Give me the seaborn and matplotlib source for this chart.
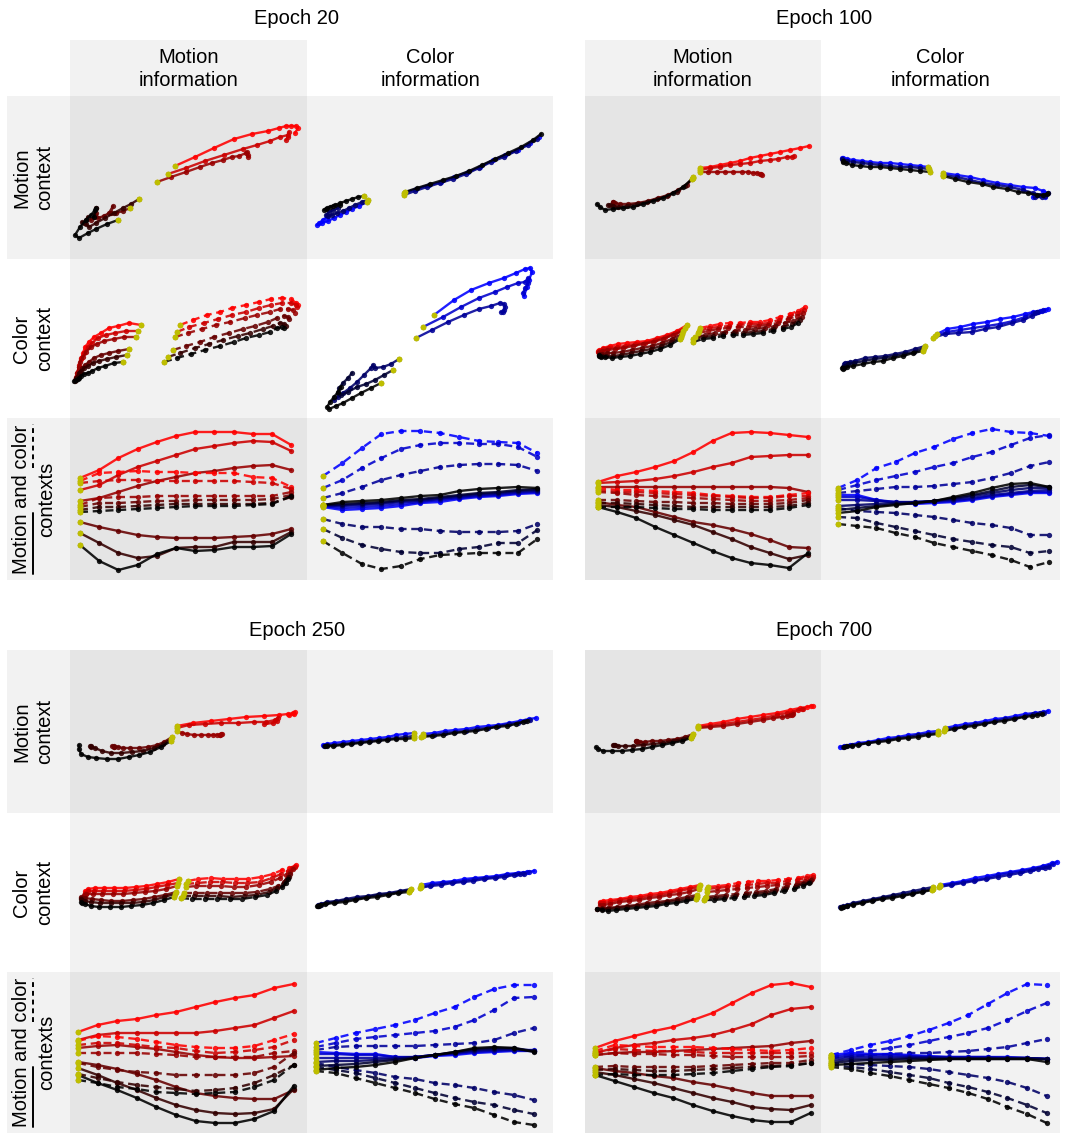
import matplotlib
matplotlib.use("Agg")
import matplotlib.pyplot as plt
from matplotlib.patches import Rectangle
from matplotlib.lines import Line2D
import pandas as pd
import seaborn as sns

# ---------------------------------------------------------------------------
# Data: neural-state trajectories projected on the motion / color axes.
# Rows 1-2: 2-D projections (x, y in projection units, y grows downward).
# Row 3: projection value per time step (12 steps).
# ---------------------------------------------------------------------------
STEPS = list(range(12))

# ---------------- Epoch 20 ----------------
E20_MOTCTX_MOTINFO_X = [
    [105, 125, 144, 164, 182, 198, 209, 216, 221, 226, 228, 225],
    [98, 116, 135, 154, 173, 187, 200, 210, 218, 219, 218, 216],
    [87, 101, 116, 130, 142, 153, 162, 169, 176, 178, 177, 178],
    [60, 53, 46, 41, 43, 39, 34, 28, 26, 26, 24, 21],
    [69, 61, 53, 44, 35, 26, 19, 16, 18, 16, 14, 12],
    [48, 37, 26, 18, 9, 5, 10, 16, 21, 25, 26, 24],
]
E20_MOTCTX_MOTINFO_Y = [
    [70, 61, 52, 43, 38, 35, 32, 30, 30, 30, 32, 37],
    [78, 72, 65, 59, 53, 49, 45, 41, 39, 36, 41, 44],
    [86, 81, 76, 71, 67, 64, 61, 60, 57, 59, 56, 61],
    [112, 115, 117, 117, 110, 117, 120, 122, 117, 112, 121, 124],
    [103, 108, 112, 117, 122, 127, 131, 128, 121, 124, 127, 126],
    [124, 128, 133, 137, 142, 139, 131, 124, 119, 114, 112, 121],
]
E20_MOTCTX_COLINFO_X = [
    [60, 52, 45, 39, 33, 27, 21, 15, 10, 12, 16, 20],
    [61, 55, 48, 42, 36, 30, 25, 21, 19, 22, 26, 31],
    [57, 51, 45, 39, 33, 28, 23, 19, 17, 20, 26, 33],
    [97, 109, 122, 134, 147, 161, 173, 186, 198, 211, 223, 232],
    [97, 108, 120, 133, 146, 159, 172, 184, 197, 209, 221, 230],
    [98, 110, 123, 136, 149, 162, 175, 188, 201, 214, 226, 234],
]
E20_MOTCTX_COLINFO_Y = [
    [106, 110, 113, 116, 119, 122, 125, 127, 129, 127, 124, 121],
    [104, 106, 109, 112, 115, 117, 119, 120, 119, 116, 114, 112],
    [100, 101, 103, 105, 107, 109, 111, 113, 114, 112, 110, 109],
    [97, 93, 89, 86, 81, 76, 71, 64, 59, 54, 47, 41],
    [99, 95, 91, 87, 83, 78, 72, 66, 61, 55, 49, 43],
    [96, 92, 88, 84, 80, 75, 69, 63, 57, 51, 44, 38],
]
E20_COLCTX_MOTINFO_X = [
    [71, 59, 48, 39, 31, 24, 19, 15, 13, 11, 9, 7],
    [68, 56, 45, 36, 28, 22, 18, 14, 11, 9, 8, 6],
    [66, 54, 44, 34, 27, 21, 16, 13, 10, 9, 7, 6],
    [59, 48, 39, 31, 24, 19, 15, 12, 10, 9, 7, 5],
    [57, 46, 37, 29, 23, 18, 14, 11, 9, 8, 6, 5],
    [53, 44, 35, 28, 22, 18, 14, 11, 9, 8, 6, 4],
    [110, 123, 137, 150, 162, 176, 189, 201, 212, 221, 226, 228],
    [107, 119, 134, 148, 162, 176, 189, 201, 212, 221, 226, 227],
    [105, 118, 132, 146, 160, 175, 187, 200, 210, 218, 223, 225],
    [103, 116, 130, 144, 159, 173, 185, 198, 207, 214, 218, 219],
    [98, 110, 125, 139, 153, 168, 180, 193, 203, 210, 214, 216],
    [94, 107, 121, 135, 150, 164, 176, 189, 200, 207, 212, 214],
]
E20_COLCTX_MOTINFO_Y = [
    [66, 64, 67, 69, 74, 78, 83, 88, 94, 100, 108, 114],
    [72, 72, 74, 76, 79, 84, 88, 94, 99, 106, 113, 118],
    [78, 78, 80, 82, 85, 88, 93, 98, 103, 108, 114, 119],
    [90, 92, 94, 96, 99, 103, 106, 109, 113, 116, 119, 121],
    [96, 98, 100, 102, 104, 107, 109, 112, 114, 117, 119, 122],
    [103, 104, 107, 109, 112, 114, 115, 117, 119, 120, 121, 122],
    [66, 61, 56, 53, 49, 46, 43, 40, 39, 40, 44, 46],
    [73, 68, 64, 60, 56, 53, 49, 46, 44, 44, 46, 48],
    [78, 74, 70, 66, 63, 59, 56, 53, 50, 50, 51, 54],
    [91, 87, 83, 78, 74, 70, 67, 63, 59, 57, 58, 60],
    [98, 94, 89, 85, 81, 77, 74, 70, 67, 64, 65, 67],
    [103, 99, 95, 91, 87, 83, 79, 76, 73, 69, 68, 69],
]
E20_COLCTX_COLINFO_X = [
    [127, 147, 164, 182, 197, 209, 218, 223, 225, 222, 220, 217],
    [116, 136, 154, 172, 188, 200, 211, 218, 221, 221, 218, 216],
    [109, 125, 141, 157, 172, 184, 193, 197, 198, 197, 196, 194],
    [92, 84, 76, 68, 66, 64, 57, 50, 43, 36, 31, 27],
    [86, 77, 68, 59, 50, 41, 34, 31, 32, 36, 41, 45],
    [74, 64, 54, 45, 36, 29, 22, 20, 23, 27, 31, 34],
]
E20_COLCTX_COLINFO_Y = [
    [56, 41, 31, 24, 19, 14, 10, 9, 13, 21, 28, 37],
    [68, 58, 48, 39, 33, 28, 24, 23, 19, 24, 29, 34],
    [79, 71, 63, 56, 50, 47, 44, 45, 48, 51, 53, 53],
    [100, 105, 108, 109, 106, 109, 116, 123, 129, 134, 138, 141],
    [111, 116, 121, 125, 128, 133, 136, 134, 129, 124, 119, 114],
    [124, 129, 134, 139, 144, 147, 150, 148, 143, 138, 133, 128],
]
E20_BOTH_MOTINFO_Y = [
    [60, 52, 40, 31, 24, 18, 14, 14, 14, 16, 16, 27],
    [72, 67, 57, 49, 43, 37, 31, 28, 25, 23, 24, 33],
    [83, 80, 74, 68, 63, 59, 55, 53, 50, 48, 47, 52],
    [104, 109, 113, 117, 119, 120, 120, 120, 119, 118, 116, 111],
    [115, 125, 135, 140, 138, 130, 129, 129, 124, 124, 124, 114],
    [127, 143, 152, 147, 136, 130, 133, 132, 129, 129, 128, 116],
    [63, 55, 54, 53, 54, 54, 55, 55, 55, 59, 60, 69],
    [65, 63, 62, 62, 63, 63, 63, 63, 63, 64, 65, 71],
    [87, 80, 79, 79, 78, 78, 78, 78, 78, 78, 78, 74],
    [89, 85, 85, 84, 83, 83, 82, 82, 82, 82, 81, 77],
    [92, 89, 89, 88, 87, 86, 86, 86, 86, 86, 85, 79],
    [94, 93, 92, 91, 90, 89, 88, 88, 88, 87, 86, 78],
]
E20_BOTH_COLINFO_Y = [
    [58, 45, 30, 16, 13, 13, 15, 19, 23, 24, 25, 35],
    [70, 62, 50, 40, 31, 27, 25, 25, 26, 26, 29, 39],
    [80, 75, 69, 62, 57, 53, 49, 47, 46, 46, 47, 53],
    [101, 106, 109, 109, 111, 111, 113, 114, 114, 114, 113, 106],
    [111, 120, 127, 131, 134, 135, 135, 131, 129, 125, 125, 112],
    [123, 135, 146, 151, 148, 141, 137, 136, 135, 135, 135, 121],
    [89, 92, 91, 90, 88, 85, 84, 81, 79, 78, 76, 75],
    [88, 90, 89, 88, 86, 84, 82, 80, 78, 77, 75, 74],
    [88, 88, 87, 86, 84, 83, 81, 79, 77, 76, 74, 73],
    [87, 87, 86, 85, 83, 82, 80, 78, 76, 75, 73, 72],
    [87, 86, 85, 84, 82, 81, 79, 77, 75, 74, 72, 71],
    [87, 84, 83, 82, 80, 78, 77, 73, 71, 70, 69, 70],
]

# ---------------- Epoch 100 ----------------
E100_MOTCTX_MOTINFO_X = [
    [115, 125, 135, 145, 155, 165, 175, 185, 195, 205, 215, 224],
    [115, 125, 135, 145, 155, 165, 175, 185, 193, 202, 207, 209],
    [115, 123, 132, 140, 148, 157, 163, 168, 172, 175, 176, 177],
    [108, 102, 93, 83, 73, 63, 53, 43, 35, 30, 28, 28],
    [108, 100, 92, 82, 72, 62, 52, 42, 33, 28, 25, 23],
    [107, 98, 88, 78, 68, 58, 48, 38, 28, 20, 15, 12],
]
E100_MOTCTX_MOTINFO_Y = [
    [72, 71, 69, 67, 65, 62, 60, 58, 56, 54, 52, 50],
    [74, 72, 71, 69, 68, 67, 65, 64, 63, 61, 61, 60],
    [76, 76, 76, 76, 76, 76, 76, 77, 77, 78, 78, 79],
    [81, 89, 94, 99, 102, 105, 107, 108, 108, 107, 106, 106],
    [82, 90, 96, 100, 103, 106, 108, 110, 111, 110, 109, 109],
    [83, 91, 97, 102, 105, 108, 111, 112, 113, 114, 111, 108],
]
E100_MOTCTX_COLINFO_X = [
    [107, 99, 89, 79, 69, 59, 49, 41, 32, 26, 22, 21],
    [108, 99, 89, 79, 69, 59, 49, 41, 32, 26, 22, 21],
    [109, 99, 89, 79, 69, 59, 49, 39, 31, 25, 22, 22],
    [122, 136, 149, 162, 176, 189, 202, 214, 222, 227, 224, 212],
    [122, 136, 149, 162, 176, 189, 202, 212, 219, 224, 221, 214],
    [122, 134, 147, 161, 172, 186, 197, 207, 216, 222, 226, 227],
]
E100_MOTCTX_COLINFO_Y = [
    [71, 70, 69, 68, 67, 67, 66, 65, 64, 63, 62, 62],
    [73, 72, 71, 71, 70, 69, 68, 67, 66, 65, 64, 63],
    [76, 75, 74, 73, 72, 71, 71, 70, 69, 67, 66, 65],
    [77, 79, 81, 84, 87, 89, 91, 92, 95, 97, 101, 101],
    [79, 81, 84, 87, 89, 91, 94, 97, 99, 100, 101, 101],
    [80, 83, 86, 88, 91, 93, 96, 97, 99, 99, 98, 97],
]
E100_COLCTX_MOTINFO_X = [
    [102, 92, 82, 72, 62, 52, 42, 33, 25, 18, 14, 13],
    [100, 90, 80, 70, 60, 50, 40, 32, 23, 18, 14, 13],
    [98, 88, 78, 68, 58, 48, 38, 30, 22, 17, 14, 14],
    [97, 87, 77, 67, 57, 47, 37, 28, 22, 17, 15, 14],
    [96, 86, 76, 66, 56, 46, 36, 28, 21, 17, 15, 15],
    [95, 85, 75, 65, 55, 45, 35, 27, 20, 16, 14, 14],
    [115, 125, 135, 145, 155, 165, 175, 185, 195, 205, 213, 220],
    [114, 124, 134, 144, 154, 164, 174, 184, 194, 204, 212, 219],
    [113, 123, 133, 143, 153, 163, 173, 183, 193, 203, 212, 218],
    [110, 120, 130, 140, 150, 160, 170, 180, 190, 200, 208, 217],
    [108, 118, 128, 138, 148, 158, 168, 178, 188, 198, 207, 215],
    [108, 118, 128, 138, 148, 158, 168, 178, 188, 198, 206, 213],
]
E100_COLCTX_MOTINFO_Y = [
    [66, 72, 76, 79, 82, 83, 84, 85, 87, 89, 91, 92],
    [69, 74, 78, 81, 84, 85, 87, 88, 89, 90, 92, 93],
    [72, 76, 80, 83, 85, 87, 89, 90, 91, 92, 93, 94],
    [75, 80, 84, 87, 89, 91, 93, 94, 94, 95, 95, 96],
    [78, 83, 87, 90, 92, 94, 96, 97, 97, 97, 97, 97],
    [80, 86, 90, 93, 95, 97, 98, 99, 98, 98, 97, 96],
    [69, 67, 65, 64, 64, 63, 63, 61, 58, 55, 52, 48],
    [72, 69, 68, 67, 66, 65, 65, 64, 61, 58, 54, 51],
    [74, 72, 70, 69, 68, 68, 67, 66, 64, 60, 57, 54],
    [78, 76, 74, 73, 72, 71, 70, 69, 67, 64, 62, 58],
    [80, 78, 77, 75, 74, 74, 73, 72, 70, 68, 65, 61],
    [83, 80, 79, 77, 76, 76, 75, 74, 72, 70, 68, 64],
]
E100_COLCTX_COLINFO_X = [
    [116, 126, 139, 152, 166, 179, 192, 204, 212, 219, 224, 227],
    [114, 126, 139, 152, 166, 179, 192, 204, 212, 217, 221, 222],
    [112, 124, 137, 151, 164, 177, 191, 202, 211, 214, 216, 216],
    [104, 94, 84, 74, 64, 54, 44, 34, 29, 26, 24, 23],
    [103, 93, 83, 73, 63, 53, 43, 33, 27, 24, 22, 22],
    [102, 92, 82, 72, 62, 52, 42, 32, 26, 23, 22, 21],
]
E100_COLCTX_COLINFO_Y = [
    [75, 70, 68, 65, 63, 60, 58, 55, 53, 52, 51, 50],
    [77, 73, 71, 69, 67, 65, 62, 58, 54, 53, 52, 51],
    [79, 75, 74, 73, 70, 68, 64, 61, 57, 54, 53, 53],
    [87, 90, 93, 95, 97, 98, 99, 102, 103, 104, 104, 105],
    [89, 93, 95, 97, 99, 100, 102, 104, 105, 107, 108, 108],
    [92, 94, 97, 99, 102, 103, 105, 107, 108, 109, 110, 109],
]
E100_BOTH_MOTINFO_Y = [
    [64, 58, 54, 49, 43, 34, 23, 15, 14, 15, 17, 19],
    [65, 64, 63, 61, 58, 54, 49, 45, 39, 38, 37, 37],
    [69, 69, 69, 69, 69, 69, 69, 69, 69, 69, 70, 74],
    [84, 87, 89, 94, 99, 104, 107, 111, 116, 122, 129, 130],
    [87, 89, 93, 97, 102, 107, 114, 121, 129, 135, 141, 137],
    [89, 94, 100, 109, 117, 125, 133, 140, 145, 147, 150, 135],
    [70, 72, 72, 73, 74, 75, 77, 78, 79, 79, 77, 75],
    [72, 74, 74, 75, 76, 77, 78, 79, 80, 80, 78, 78],
    [74, 75, 77, 78, 79, 80, 81, 82, 83, 83, 82, 80],
    [82, 82, 83, 84, 84, 85, 85, 86, 86, 86, 85, 82],
    [85, 85, 86, 87, 88, 89, 89, 89, 89, 89, 88, 85],
    [89, 89, 89, 90, 91, 91, 92, 92, 92, 92, 90, 87],
]
E100_BOTH_COLINFO_Y = [
    [70, 62, 50, 44, 35, 29, 21, 15, 11, 14, 15, 18],
    [72, 67, 62, 58, 54, 49, 45, 39, 34, 27, 20, 17],
    [75, 73, 71, 69, 69, 68, 66, 64, 60, 55, 48, 44],
    [90, 93, 94, 95, 97, 99, 102, 105, 107, 110, 117, 117],
    [99, 100, 105, 109, 113, 117, 121, 124, 127, 129, 135, 133],
    [106, 108, 110, 115, 119, 125, 129, 133, 137, 142, 149, 144],
    [77, 77, 82, 85, 86, 85, 84, 82, 79, 77, 75, 75],
    [79, 79, 82, 84, 85, 84, 83, 81, 78, 76, 74, 74],
    [82, 82, 83, 84, 84, 83, 82, 80, 77, 75, 73, 72],
    [88, 87, 86, 85, 84, 83, 81, 78, 75, 72, 70, 70],
    [92, 90, 88, 86, 85, 83, 80, 77, 73, 69, 67, 69],
    [95, 93, 89, 87, 85, 83, 79, 75, 70, 66, 65, 69],
]

# ---------------- Epoch 250 ----------------
E250_MOTCTX_MOTINFO_X = [
    [107, 123, 141, 159, 176, 194, 209, 218, 223, 225, 224, 219],
    [107, 119, 135, 151, 168, 184, 196, 205, 208, 207, 203, 194],
    [107, 112, 117, 124, 131, 138, 143, 147, 150, 152, 151, 150],
    [102, 94, 87, 78, 69, 60, 53, 48, 44, 42, 44, 44],
    [101, 93, 84, 73, 62, 51, 41, 32, 25, 21, 20, 21],
    [101, 91, 80, 69, 59, 48, 37, 26, 18, 11, 9, 9],
]
E250_MOTCTX_MOTINFO_Y = [
    [76, 73, 71, 69, 67, 66, 65, 64, 63, 62, 64, 65],
    [78, 75, 74, 73, 73, 72, 72, 70, 68, 71, 73, 74],
    [81, 83, 84, 85, 85, 85, 85, 85, 85, 84, 84, 85],
    [87, 92, 95, 97, 98, 98, 98, 97, 96, 96, 97, 97],
    [89, 94, 98, 101, 102, 103, 103, 101, 98, 97, 96, 96],
    [91, 97, 102, 105, 107, 109, 109, 108, 107, 104, 99, 95],
]
E250_MOTCTX_COLINFO_X = [
    [107, 98, 89, 81, 72, 63, 54, 45, 36, 27, 20, 16],
    [107, 98, 89, 81, 72, 63, 54, 45, 36, 27, 20, 17],
    [107, 98, 89, 80, 71, 62, 53, 44, 35, 26, 20, 18],
    [116, 127, 138, 148, 159, 170, 181, 191, 202, 213, 222, 229],
    [116, 127, 138, 148, 159, 170, 181, 191, 202, 211, 218, 223],
    [114, 125, 136, 147, 157, 168, 179, 189, 200, 209, 216, 220],
]
E250_MOTCTX_COLINFO_Y = [
    [83, 84, 85, 87, 88, 89, 90, 91, 92, 93, 94, 95],
    [86, 87, 88, 89, 90, 91, 92, 93, 94, 95, 95, 96],
    [88, 89, 89, 90, 91, 92, 93, 94, 95, 96, 96, 96],
    [84, 83, 81, 80, 79, 77, 76, 75, 73, 71, 69, 68],
    [86, 85, 83, 82, 81, 79, 78, 76, 74, 73, 71, 70],
    [87, 86, 85, 83, 82, 81, 79, 77, 76, 74, 72, 71],
]
E250_COLCTX_MOTINFO_X = [
    [109, 98, 87, 76, 66, 55, 44, 34, 25, 18, 15, 16],
    [108, 97, 86, 76, 65, 54, 44, 33, 24, 18, 15, 16],
    [107, 96, 85, 75, 64, 53, 43, 32, 23, 16, 14, 14],
    [106, 95, 84, 74, 63, 52, 41, 31, 22, 15, 11, 11],
    [105, 94, 84, 73, 62, 51, 41, 30, 21, 15, 12, 11],
    [104, 94, 83, 72, 61, 51, 40, 29, 21, 15, 12, 11],
    [118, 128, 141, 153, 166, 178, 191, 203, 212, 219, 225, 226],
    [116, 127, 140, 152, 165, 177, 190, 202, 211, 218, 222, 225],
    [116, 126, 139, 151, 164, 176, 189, 201, 210, 216, 220, 223],
    [114, 125, 137, 150, 162, 175, 187, 200, 208, 214, 218, 220],
    [113, 124, 136, 149, 161, 174, 186, 199, 207, 213, 216, 219],
    [111, 122, 135, 147, 160, 172, 185, 197, 206, 212, 216, 218],
]
E250_COLCTX_MOTINFO_Y = [
    [66, 69, 71, 73, 74, 75, 75, 75, 75, 76, 78, 79],
    [70, 72, 74, 76, 77, 78, 78, 78, 78, 78, 80, 81],
    [73, 76, 78, 79, 80, 81, 81, 81, 81, 81, 82, 84],
    [79, 82, 84, 86, 87, 88, 88, 87, 86, 85, 85, 84],
    [81, 84, 87, 89, 90, 90, 90, 90, 89, 88, 87, 86],
    [84, 87, 90, 92, 93, 94, 94, 94, 93, 91, 90, 89],
    [68, 66, 65, 66, 66, 66, 64, 61, 57, 55, 53, 52],
    [71, 70, 69, 69, 70, 70, 69, 65, 61, 58, 55, 54],
    [74, 73, 73, 73, 74, 74, 72, 69, 65, 62, 59, 56],
    [80, 80, 80, 80, 80, 80, 79, 76, 73, 69, 64, 61],
    [83, 83, 83, 83, 84, 83, 82, 79, 75, 71, 67, 64],
    [85, 86, 86, 86, 86, 86, 84, 82, 78, 74, 70, 66],
]
E250_COLCTX_COLINFO_X = [
    [114, 125, 136, 147, 157, 168, 179, 189, 200, 211, 220, 227],
    [114, 124, 135, 146, 157, 167, 178, 189, 199, 209, 216, 222],
    [113, 123, 134, 145, 156, 166, 177, 188, 197, 207, 213, 217],
    [104, 93, 82, 72, 61, 50, 39, 29, 20, 14, 12, 11],
    [103, 92, 82, 71, 60, 49, 39, 28, 19, 14, 12, 11],
    [102, 91, 81, 70, 59, 48, 38, 27, 18, 13, 11, 10],
]
E250_COLCTX_COLINFO_Y = [
    [72, 70, 69, 68, 66, 65, 64, 63, 61, 60, 59, 58],
    [74, 72, 70, 69, 68, 66, 65, 64, 62, 61, 60, 59],
    [75, 73, 72, 70, 69, 68, 66, 65, 64, 62, 61, 61],
    [76, 78, 80, 81, 83, 84, 86, 88, 89, 91, 92, 92],
    [77, 79, 81, 82, 84, 86, 87, 89, 90, 92, 93, 93],
    [79, 80, 82, 84, 85, 87, 89, 90, 91, 92, 93, 93],
]
E250_BOTH_MOTINFO_Y = [
    [60, 53, 49, 47, 43, 40, 35, 30, 26, 23, 16, 12],
    [68, 63, 61, 61, 61, 61, 61, 59, 56, 53, 46, 39],
    [76, 74, 73, 75, 77, 80, 83, 85, 86, 86, 85, 84],
    [90, 93, 97, 102, 108, 115, 121, 124, 126, 127, 127, 118],
    [96, 103, 111, 118, 126, 133, 138, 141, 142, 141, 137, 117],
    [103, 111, 118, 126, 135, 143, 149, 151, 151, 147, 139, 114],
    [69, 64, 65, 67, 70, 73, 75, 76, 76, 74, 68, 62],
    [73, 71, 71, 73, 75, 76, 79, 81, 80, 78, 75, 68],
    [81, 81, 81, 81, 82, 83, 85, 85, 85, 85, 81, 79],
    [91, 95, 98, 100, 101, 103, 103, 103, 103, 101, 95, 81],
    [102, 106, 110, 113, 115, 117, 119, 118, 116, 111, 103, 93],
    [108, 111, 115, 117, 120, 121, 122, 121, 120, 115, 108, 93],
]
E250_BOTH_COLINFO_Y = [
    [71, 66, 61, 57, 53, 48, 41, 35, 25, 17, 13, 13],
    [75, 71, 67, 65, 63, 61, 59, 55, 48, 38, 26, 25],
    [78, 75, 74, 74, 74, 74, 73, 72, 71, 68, 61, 56],
    [91, 95, 98, 101, 105, 107, 111, 113, 116, 120, 123, 128],
    [95, 98, 101, 106, 111, 116, 121, 126, 130, 133, 138, 142],
    [99, 101, 106, 111, 116, 121, 127, 132, 136, 143, 150, 153],
    [80, 81, 82, 82, 85, 86, 84, 83, 81, 80, 79, 79],
    [82, 82, 83, 83, 85, 85, 83, 82, 80, 79, 78, 78],
    [86, 86, 86, 86, 86, 85, 83, 81, 79, 78, 78, 79],
    [90, 89, 89, 88, 87, 85, 83, 81, 78, 77, 77, 79],
    [94, 93, 92, 90, 88, 86, 83, 80, 77, 76, 76, 79],
    [98, 96, 95, 93, 90, 86, 83, 80, 76, 75, 76, 80],
]

# ---------------- Epoch 700 ----------------
E700_MOTCTX_MOTINFO_X = [
    [113, 125, 138, 152, 165, 178, 192, 205, 215, 222, 226, 228],
    [113, 125, 138, 152, 165, 178, 192, 202, 208, 213, 217, 218],
    [113, 125, 138, 152, 165, 178, 188, 197, 202, 205, 207, 208],
    [108, 100, 92, 83, 75, 67, 60, 55, 52, 51, 51, 52],
    [107, 98, 88, 78, 68, 58, 48, 40, 33, 30, 29, 28],
    [106, 97, 87, 77, 67, 57, 47, 37, 27, 18, 13, 11],
]
E700_MOTCTX_MOTINFO_Y = [
    [76, 74, 72, 69, 67, 65, 63, 60, 58, 57, 56, 56],
    [77, 76, 74, 72, 70, 68, 65, 63, 62, 60, 59, 59],
    [78, 77, 76, 74, 72, 70, 68, 67, 66, 65, 65, 64],
    [84, 87, 89, 90, 91, 91, 92, 92, 92, 91, 91, 91],
    [86, 89, 91, 93, 94, 95, 96, 96, 96, 95, 95, 95],
    [88, 91, 93, 95, 97, 99, 100, 101, 101, 101, 99, 97],
]
E700_MOTCTX_COLINFO_X = [
    [117, 107, 97, 87, 77, 67, 57, 47, 37, 29, 23, 19],
    [117, 107, 97, 87, 77, 67, 57, 47, 38, 31, 25, 22],
    [117, 107, 97, 87, 77, 67, 57, 47, 37, 31, 26, 23],
    [124, 134, 144, 154, 164, 174, 184, 194, 204, 214, 222, 227],
    [124, 134, 144, 154, 164, 174, 184, 194, 204, 212, 219, 223],
    [123, 133, 143, 153, 163, 173, 183, 193, 203, 211, 216, 221],
]
E700_MOTCTX_COLINFO_Y = [
    [81, 82, 84, 85, 87, 88, 90, 92, 93, 95, 96, 97],
    [83, 84, 85, 87, 88, 90, 91, 93, 94, 95, 96, 97],
    [84, 85, 87, 88, 89, 91, 92, 93, 95, 96, 96, 97],
    [78, 76, 74, 73, 71, 69, 68, 66, 64, 63, 62, 61],
    [79, 78, 76, 74, 73, 71, 69, 68, 66, 64, 63, 63],
    [81, 79, 77, 76, 74, 72, 71, 69, 67, 66, 65, 64],
]
E700_COLCTX_MOTINFO_X = [
    [115, 105, 95, 85, 75, 65, 55, 45, 35, 25, 18, 15],
    [114, 104, 94, 84, 74, 64, 54, 44, 34, 25, 18, 15],
    [114, 104, 94, 84, 74, 64, 54, 44, 34, 25, 18, 15],
    [112, 102, 92, 82, 72, 62, 52, 42, 32, 23, 17, 12],
    [112, 102, 92, 82, 72, 62, 52, 42, 32, 23, 17, 12],
    [111, 101, 91, 81, 71, 61, 51, 41, 31, 23, 17, 12],
    [123, 133, 143, 153, 163, 173, 183, 193, 203, 213, 222, 228],
    [122, 132, 142, 152, 162, 172, 182, 192, 202, 212, 221, 228],
    [122, 132, 142, 152, 162, 172, 182, 192, 202, 212, 220, 227],
    [121, 131, 141, 151, 161, 171, 181, 191, 201, 211, 219, 226],
    [120, 130, 140, 150, 160, 170, 180, 190, 200, 210, 218, 225],
    [119, 129, 139, 149, 159, 169, 179, 189, 199, 209, 218, 224],
]
E700_COLCTX_MOTINFO_Y = [
    [72, 74, 76, 78, 80, 81, 83, 84, 86, 87, 88, 89],
    [74, 76, 78, 80, 82, 83, 85, 86, 87, 89, 90, 90],
    [76, 79, 81, 82, 84, 85, 87, 88, 89, 91, 92, 92],
    [82, 84, 86, 88, 89, 90, 92, 93, 94, 95, 95, 96],
    [84, 86, 88, 89, 91, 92, 93, 94, 95, 96, 96, 96],
    [86, 88, 90, 91, 93, 94, 95, 96, 97, 98, 97, 96],
    [74, 73, 72, 70, 69, 68, 68, 67, 66, 65, 63, 62],
    [76, 75, 74, 73, 72, 71, 70, 70, 68, 67, 65, 64],
    [79, 78, 77, 76, 75, 74, 73, 72, 71, 70, 68, 66],
    [84, 83, 82, 81, 80, 79, 78, 76, 74, 72, 70, 67],
    [85, 85, 84, 83, 82, 81, 80, 78, 76, 74, 71, 69],
    [87, 87, 86, 85, 84, 83, 82, 80, 78, 76, 73, 70],
]
E700_COLCTX_COLINFO_X = [
    [119, 131, 142, 154, 166, 177, 189, 201, 212, 222, 231, 236],
    [119, 131, 142, 154, 166, 177, 189, 201, 212, 221, 227, 232],
    [118, 130, 142, 153, 165, 177, 188, 199, 209, 217, 224, 228],
    [112, 102, 92, 82, 72, 62, 52, 42, 32, 26, 22, 19],
    [112, 102, 92, 82, 72, 62, 52, 42, 32, 26, 22, 20],
    [111, 101, 91, 81, 71, 61, 51, 41, 32, 26, 22, 20],
]
E700_COLCTX_COLINFO_Y = [
    [72, 70, 68, 65, 63, 61, 59, 57, 55, 53, 50, 49],
    [73, 71, 69, 67, 65, 62, 60, 58, 56, 54, 53, 51],
    [74, 72, 70, 68, 66, 64, 62, 60, 58, 56, 55, 54],
    [74, 76, 78, 80, 82, 84, 86, 88, 90, 92, 93, 94],
    [76, 78, 80, 82, 83, 85, 87, 89, 91, 93, 94, 94],
    [77, 79, 81, 83, 85, 86, 88, 90, 92, 93, 94, 95],
]
E700_BOTH_MOTINFO_Y = [
    [76, 69, 64, 59, 55, 48, 41, 31, 21, 13, 11, 15],
    [81, 76, 73, 71, 68, 66, 63, 58, 52, 43, 37, 35],
    [83, 81, 80, 80, 79, 78, 77, 76, 75, 74, 71, 69],
    [96, 99, 101, 104, 106, 110, 113, 117, 121, 124, 124, 124],
    [100, 103, 107, 111, 116, 121, 126, 130, 135, 137, 138, 133],
    [103, 109, 115, 121, 126, 133, 139, 144, 148, 150, 150, 141],
    [79, 73, 74, 75, 75, 75, 76, 77, 78, 79, 78, 76],
    [81, 77, 78, 79, 79, 80, 81, 81, 81, 81, 81, 81],
    [83, 81, 82, 82, 83, 83, 84, 85, 85, 85, 85, 84],
    [95, 94, 95, 95, 95, 95, 94, 93, 92, 91, 91, 88],
    [98, 97, 98, 99, 99, 98, 97, 96, 95, 94, 93, 91],
    [103, 102, 103, 103, 103, 102, 101, 99, 97, 95, 94, 91],
]
E700_BOTH_COLINFO_Y = [
    [83, 78, 73, 69, 64, 58, 51, 43, 32, 21, 12, 13],
    [85, 81, 79, 76, 73, 69, 65, 61, 56, 48, 39, 31],
    [86, 84, 83, 82, 81, 81, 80, 79, 77, 75, 71, 67],
    [91, 92, 93, 94, 95, 97, 100, 103, 106, 110, 116, 124],
    [93, 95, 97, 100, 103, 106, 111, 115, 120, 126, 133, 141],
    [95, 97, 101, 104, 108, 112, 116, 121, 127, 135, 142, 151],
    [83, 81, 82, 82, 83, 84, 85, 85, 85, 85, 86, 87],
    [85, 83, 83, 83, 84, 85, 85, 85, 85, 86, 86, 87],
    [87, 85, 85, 85, 85, 85, 86, 86, 86, 86, 86, 87],
    [89, 87, 87, 87, 86, 86, 86, 86, 86, 86, 86, 87],
    [91, 89, 88, 88, 87, 87, 87, 87, 87, 87, 87, 87],
    [93, 92, 91, 90, 89, 88, 87, 87, 87, 87, 87, 90],
]

EPOCHS = [20, 100, 250, 700]
TITLES = ["Epoch 20", "Epoch 100", "Epoch 250", "Epoch 700"]
COL_HEADERS = ["Motion\ninformation", "Color\ninformation"]
ROW_LABELS = ["Motion\ncontext", "Color\ncontext"]

# ---------------------------------------------------------------------------
# Styles
# ---------------------------------------------------------------------------
RED6 = ["#ff0000", "#cc0000", "#990000", "#660000", "#330000", "#000000"]
BLUE6 = ["#0000ff", "#0000cc", "#000099", "#000066", "#000033", "#000000"]
MIXED6 = ["#0000ff", "#000066", "#000000", "#0000ff", "#000080", "#000000"]
START_COLOR = "#bebe00"
SHADE = dict(facecolor="black", alpha=0.052, edgecolor="none", zorder=0)

# ---------------------------------------------------------------------------
# Layout (figure pixels, y measured from the top)
# ---------------------------------------------------------------------------
W, H = 1066, 1133
LEFT_COLS = (70, 307, 553)
RIGHT_COLS = (585, 821, 1060)
TOP_ROWS = (96, 259, 418, 580)
BOTTOM_ROWS = (650, 813, 972, 1133)
HEADER_TOP = 40
LABEL_LEFT = 7
BLOCKS = [
    dict(cols=LEFT_COLS, rows=TOP_ROWS, header=True, labels=True, title_y=18, title_x=297),
    dict(cols=RIGHT_COLS, rows=TOP_ROWS, header=True, labels=False, title_y=18, title_x=824),
    dict(cols=LEFT_COLS, rows=BOTTOM_ROWS, header=False, labels=True, title_y=630, title_x=297),
    dict(cols=RIGHT_COLS, rows=BOTTOM_ROWS, header=False, labels=False, title_y=630, title_x=824),
]
# visible time window of the combined-context rows, per column
STEP_WINDOWS = {
    20: [(-0.52, 11.82), (-0.82, 11.8)],
    100: [(-0.68, 11.68), (-0.89, 11.56)],
    250: [(-0.41, 11.68), (-0.45, 11.97)],
    700: [(-0.51, 11.53), (-0.51, 11.68)],
}
FONT = 14.5

sns.set_theme(style="white")
plt.rcParams["font.family"] = ["Liberation Sans", "DejaVu Sans"]
plt.rcParams["axes.facecolor"] = "none"
plt.rcParams["text.color"] = "black"

fig = plt.figure(figsize=(W / 100, H / 100), dpi=100)
fig.patch.set_facecolor("white")


def fx(x):
    return x / W


def fy(y):
    return 1 - y / H


def shade(x0, y0, x1, y1):
    fig.add_artist(Rectangle((fx(x0), fy(y1)), fx(x1) - fx(x0), fy(y0) - fy(y1),
                             transform=fig.transFigure, **SHADE))


def draw_trajectories(ax, xs, ys, colors, dashed):
    rows = []
    for i, (tx, ty) in enumerate(zip(xs, ys)):
        for j, (a, b) in enumerate(zip(tx, ty)):
            rows.append((f"t{i:02d}", j, a, b))
    df = pd.DataFrame(rows, columns=["traj", "step", "x", "y"])
    names = [f"t{i:02d}" for i in range(len(xs))]
    sns.lineplot(
        data=df, x="x", y="y", hue="traj", style="traj",
        palette=dict(zip(names, colors)),
        dashes={n: ((3.4, 2.0) if d else "") for n, d in zip(names, dashed)},
        markers={n: "o" for n in names},
        sort=False, estimator=None, legend=False, ax=ax,
        linewidth=1.7, markersize=3.8, markeredgewidth=0, alpha=0.88,
    )
    starts = df[df["step"] == 0]
    sns.scatterplot(data=starts, x="x", y="y", color=START_COLOR, s=18,
                    linewidth=0, ax=ax, zorder=5, legend=False)


def cell_axes(x0, y0, x1, y1):
    ax = fig.add_axes([fx(x0), fy(y1), fx(x1) - fx(x0), fy(y0) - fy(y1)])
    ax.set_axis_off()
    return ax


for epoch, title, blk in zip(EPOCHS, TITLES, BLOCKS):
    cols, rows = blk["cols"], blk["rows"]
    g = globals()
    pre = f"E{epoch}_"

    # background bands: motion-information column and rows 1 & 3
    shade(cols[0], HEADER_TOP if blk["header"] else rows[0], cols[1], rows[3])
    left = LABEL_LEFT if blk["labels"] else cols[0]
    shade(left, rows[0], cols[2], rows[1])
    shade(left, rows[2], cols[2], rows[3])

    fig.text(fx(blk["title_x"]), fy(blk["title_y"]), title, ha="center", va="center",
             fontsize=FONT)
    if blk["header"]:
        for c in range(2):
            fig.text(fx((cols[c] + cols[c + 1]) / 2), fy((HEADER_TOP + rows[0]) / 2 + 1),
                     COL_HEADERS[c], ha="center", va="center", fontsize=FONT,
                     linespacing=1.3)

    panels = [
        (0, 0, g[pre + "MOTCTX_MOTINFO_X"], g[pre + "MOTCTX_MOTINFO_Y"], RED6, [False] * 6),
        (0, 1, g[pre + "MOTCTX_COLINFO_X"], g[pre + "MOTCTX_COLINFO_Y"], MIXED6, [False] * 6),
        (1, 0, g[pre + "COLCTX_MOTINFO_X"], g[pre + "COLCTX_MOTINFO_Y"], RED6 + RED6,
         [False] * 6 + [True] * 6),
        (1, 1, g[pre + "COLCTX_COLINFO_X"], g[pre + "COLCTX_COLINFO_Y"], BLUE6, [False] * 6),
        (2, 0, [STEPS] * 12, g[pre + "BOTH_MOTINFO_Y"], RED6 + RED6,
         [False] * 6 + [True] * 6),
        (2, 1, [STEPS] * 12, g[pre + "BOTH_COLINFO_Y"], BLUE6 + BLUE6,
         [True] * 6 + [False] * 6),
    ]
    for r, c, xs, ys, colors, dashed in panels:
        x0, x1 = cols[c], cols[c + 1]
        y0, y1 = rows[r], rows[r + 1]
        ax = cell_axes(x0, y0, x1, y1)
        draw_trajectories(ax, xs, ys, colors, dashed)
        if r < 2:
            ax.set_xlim(0, x1 - x0)
        else:
            ax.set_xlim(*STEP_WINDOWS[epoch][c])
        ax.set_ylim(y1 - y0, 0)

    if blk["labels"]:
        for r in range(2):
            fig.text(fx(33), fy((rows[r] + rows[r + 1]) / 2), ROW_LABELS[r],
                     rotation=90, ha="center", va="center", fontsize=FONT,
                     linespacing=1.25)
        yc = (rows[2] + rows[3]) / 2
        line1 = "Motion and color"
        fig.text(fx(22), fy(yc), line1, rotation=90, ha="center", va="center",
                 fontsize=FONT)
        fig.text(fx(47), fy(yc), "contexts", rotation=90, ha="center", va="center",
                 fontsize=FONT)
        renderer = fig.canvas.get_renderer()

        def text_width(s):
            t = fig.text(0, 0, s, fontsize=FONT)
            w = t.get_window_extent(renderer).width
            t.remove()
            return w

        total = text_width(line1)
        w_motion = text_width("Motion")
        w_color = text_width("color")
        y_bottom = yc + total / 2
        fig.add_artist(Line2D([fx(33), fx(33)], [fy(y_bottom), fy(y_bottom - w_motion)],
                              transform=fig.transFigure, color="black", lw=1.4))
        fig.add_artist(Line2D([fx(33), fx(33)],
                              [fy(y_bottom - total + w_color), fy(y_bottom - total)],
                              transform=fig.transFigure, color="black", lw=1.4,
                              dashes=(2.5, 2.0)))

fig.savefig("out.png", dpi=100, facecolor="white")
